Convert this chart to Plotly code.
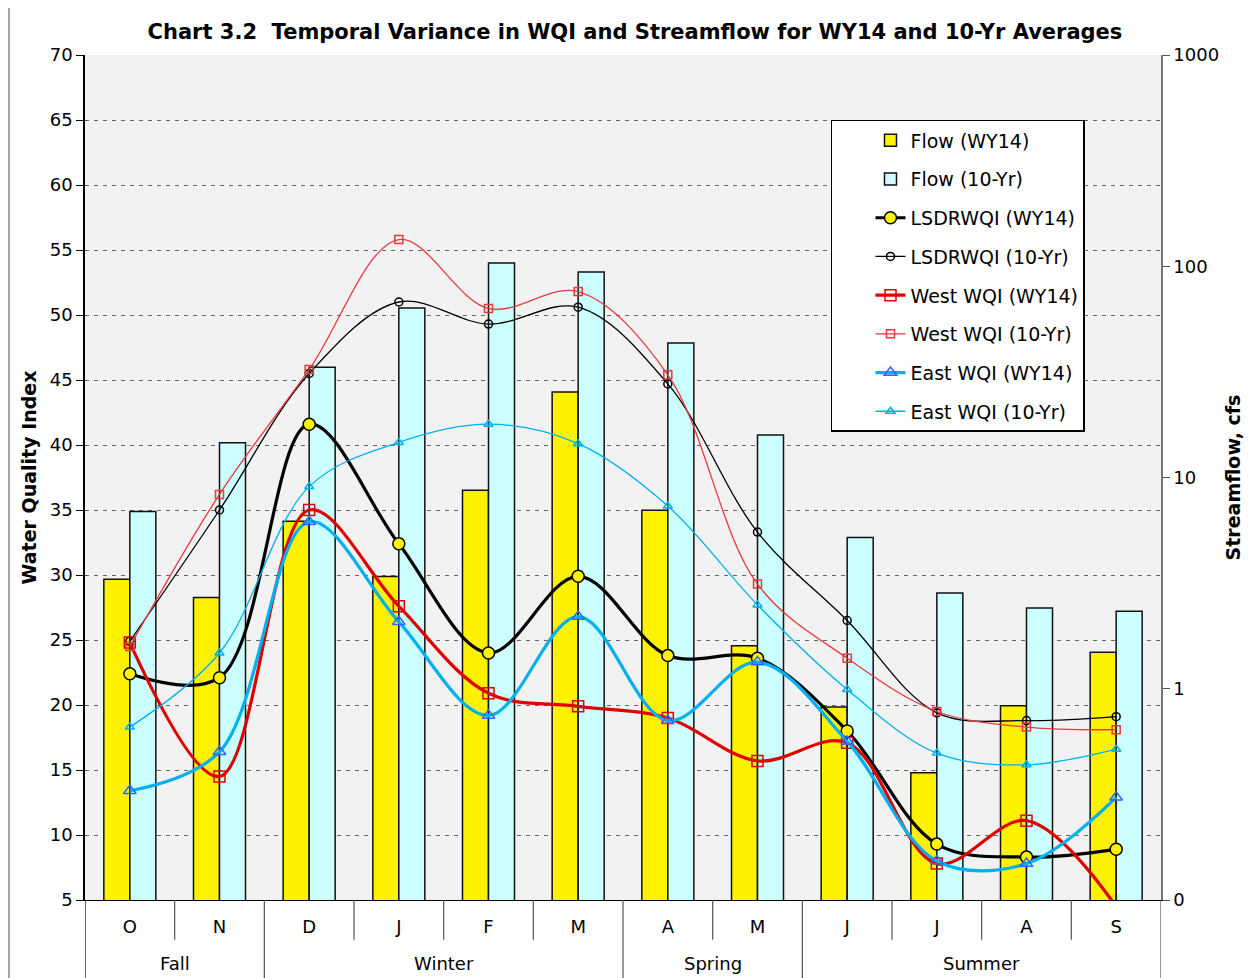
import plotly.graph_objects as go

months = ["O", "N", "D", "J", "F", "M", "A", "M", "J", "J\u200b", "A", "S"]
month_season = ["Fall", "Fall", "Winter", "Winter", "Winter", "Winter",
                "Spring", "Spring", "Summer", "Summer", "Summer", "Summer"]

flow_wy14 = [3.3, 2.7, 6.2, 3.4, 8.7, 25.4, 7.0, 1.6, 0.82, 0.40, 0.83, 1.49]
flow_10yr = [6.9, 14.6, 33.3, 63.4, 103.6, 94.0, 43.3, 15.9, 5.2, 2.84, 2.41, 2.33]

lsdr_wy14 = [22.4, 22.1, 41.6, 32.4, 24.0, 29.9, 23.8, 23.6, 18.0, 9.3, 8.3, 8.9]
lsdr_10yr = [24.9, 35.0, 45.5, 51.0, 49.3, 50.6, 44.7, 33.3, 26.5, 19.4, 18.8, 19.1]
west_wy14 = [24.8, 14.5, 35.0, 27.6, 20.9, 19.9, 19.0, 15.7, 17.1, 7.8, 11.1, 4.5]
west_10yr = [24.5, 36.2, 45.8, 55.8, 50.5, 51.8, 45.4, 29.3, 23.6, 19.5, 18.3, 18.1]
east_wy14 = [13.4, 16.4, 34.1, 26.4, 19.2, 26.8, 18.8, 23.3, 17.2, 8.0, 7.8, 12.9]
east_10yr = [18.3, 24.0, 36.8, 40.2, 41.6, 40.1, 35.3, 27.7, 21.2, 16.3, 15.4, 16.6]

flow_ticks = [0.1, 1, 10, 100, 1000]
flow_ticktext = ["0", "1", "10", "100", "1000"]

FONT = "DejaVu Sans, Verdana, sans-serif"
x = list(range(len(months)))

fig = go.Figure()

fig.add_trace(go.Bar(x=x, y=flow_wy14, name="Flow (WY14)", yaxis="y",
                     marker=dict(color="#FFF200", line=dict(color="#111111", width=1.5)),
                     legendgroup="a"))
fig.add_trace(go.Bar(x=x, y=flow_10yr, name="Flow (10-Yr)", yaxis="y",
                     marker=dict(color="#CCFFFF", line=dict(color="#111111", width=1.5)),
                     legendgroup="b"))

def line_trace(y, name, color, width, symbol, msize, mcolor, mfill, grp):
    return go.Scatter(
        x=x, y=y, name=name, yaxis="y2", mode="lines+markers",
        line=dict(color=color, width=width, shape="spline", smoothing=1.0),
        marker=dict(symbol=symbol, size=msize, color=mfill,
                    line=dict(color=mcolor, width=1.5)),
        legendgroup=grp)

fig.add_trace(line_trace(lsdr_wy14, "LSDRWQI (WY14)", "#000000", 3.2, "circle", 12, "#000000", "#FFF200", "c"))
fig.add_trace(line_trace(lsdr_10yr, "LSDRWQI (10-Yr)", "#000000", 1.3, "circle-open", 8, "#000000", "#000000", "d"))
fig.add_trace(line_trace(west_wy14, "West WQI (WY14)", "#E00000", 3.2, "square-open", 11, "#E00000", "#E00000", "e"))
fig.add_trace(line_trace(west_10yr, "West WQI (10-Yr)", "#E8383D", 1.3, "square-open", 8, "#E8383D", "#E8383D", "f"))
fig.add_trace(line_trace(east_wy14, "East WQI (WY14)", "#00B0F0", 3.2, "triangle-up-open", 11, "#3366FF", "#3366FF", "g"))
fig.add_trace(line_trace(east_10yr, "East WQI (10-Yr)", "#00B0F0", 1.3, "triangle-up-open", 8, "#00B0F0", "#00B0F0", "h"))

# x-axis table lines
shapes = []
n = len(months)
season_bounds = [-0.5]
for i in range(1, n):
    if month_season[i] != month_season[i - 1]:
        season_bounds.append(i - 0.5)
season_bounds.append(n - 0.5)
for i in range(1, n):
    xb = i - 0.5
    if xb in season_bounds:
        continue
    shapes.append(dict(type="line", xref="x", yref="paper", x0=xb, x1=xb, y0=0, y1=-0.047,
                       line=dict(color="#555555", width=1.2)))
for j, xb in enumerate(season_bounds):
    col = "#000000" if j == 0 else "#555555"
    shapes.append(dict(type="line", xref="x", yref="paper", x0=xb, x1=xb, y0=0, y1=-0.12,
                       line=dict(color=col, width=1.2)))
# outer chart frame
shapes.append(dict(type="rect", xref="paper", yref="paper", x0=-0.0706, x1=1.3, y0=-0.3, y1=1.0604,
                   line=dict(color="#888888", width=1.5), layer="below"))

annotations = []
seasons_order = []
for s in month_season:
    if s not in seasons_order:
        seasons_order.append(s)
for s in seasons_order:
    idx = [i for i, m in enumerate(month_season) if m == s]
    annotations.append(dict(text=s, x=sum(idx) / len(idx), xref="x", y=-0.0746, yref="paper",
                            showarrow=False, yanchor="middle",
                            font=dict(family=FONT, size=18, color="#000000")))

fig.update_layout(
    width=1244, height=970,
    margin=dict(l=77, r=91, t=47, b=78, autoexpand=False),
    paper_bgcolor="#FFFFFF", plot_bgcolor="#F2F2F2",
    font=dict(family=FONT, size=18, color="#000000"),
    title=dict(text="<b>Chart 3.2  Temporal Variance in WQI and Streamflow for WY14 and 10-Yr Averages</b>",
               x=0.504, xanchor="center", y=0.976, yanchor="middle",
               font=dict(family=FONT, size=21, color="#000000")),
    barmode="group", bargap=0.42, bargroupgap=0.0,
    showlegend=True,
    legend=dict(x=0.6933, y=0.9231, xanchor="left", yanchor="top",
                bgcolor="#FFFFFF", bordercolor="#000000", borderwidth=1.5,
                font=dict(family=FONT, size=19, color="#000000"),
                tracegroupgap=11, indentation=38, traceorder="grouped"),
    xaxis=dict(range=[-0.5, n - 0.5], tickvals=x, ticktext=months, ticks="",
               showgrid=False, zeroline=False, showline=True, linecolor="#000000", linewidth=1.2,
               ticklabelstandoff=10, tickfont=dict(family=FONT, size=18), automargin=False),
    yaxis=dict(type="log", range=[-1, 3], side="right", tickvals=flow_ticks, ticktext=flow_ticktext,
               ticks="outside", ticklen=7, tickcolor="#555555", showgrid=False, zeroline=False,
               showline=True, linecolor="#777777", linewidth=1.5, automargin=False,
               title=dict(text="<b>Streamflow, cfs</b>", standoff=9, font=dict(family=FONT, size=19)),
               tickfont=dict(family=FONT, size=18)),
    yaxis2=dict(range=[5, 70], dtick=5, tick0=5, overlaying="y", side="left",
                ticks="outside", ticklen=7, tickcolor="#000000", showgrid=True, gridcolor="#666666",
                gridwidth=1, griddash="4px,5px", zeroline=False, showline=True,
                linecolor="#000000", linewidth=1.5, automargin=False,
                title=dict(text="<b>Water Quality Index</b>", standoff=8, font=dict(family=FONT, size=19)),
                tickfont=dict(family=FONT, size=18)),
    shapes=shapes, annotations=annotations,
)

fig.write_html("out.html")
